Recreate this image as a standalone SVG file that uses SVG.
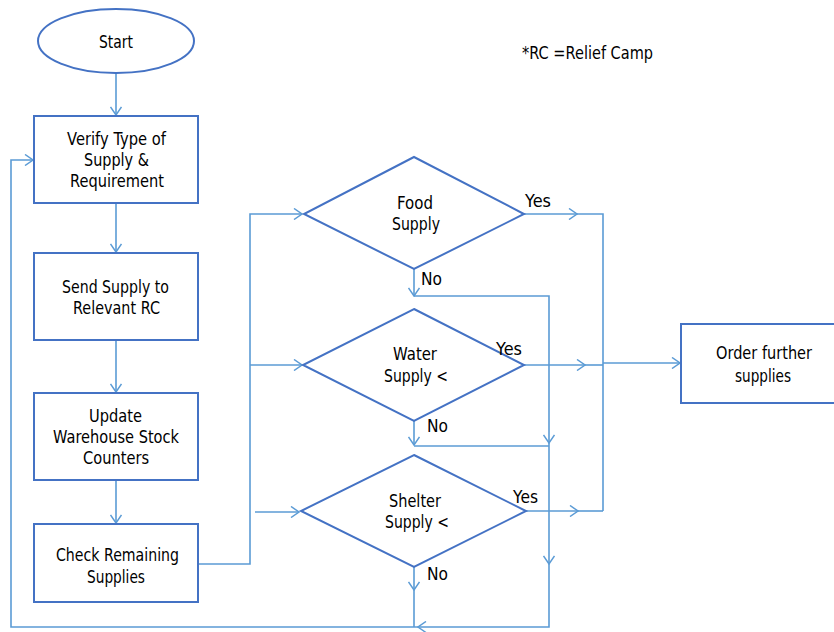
<svg xmlns="http://www.w3.org/2000/svg" width="834" height="632" viewBox="0 0 834 632">
  <defs>
    <marker id="arrow" viewBox="0 0 10 12" refX="9" refY="6" markerWidth="10" markerHeight="12" markerUnits="userSpaceOnUse" orient="auto">
      <path d="M1,0.5 L9,6 L1,11.5" fill="none" stroke="#5B9BD5" stroke-width="1.5"/>
    </marker>
  </defs>
  <style>
    .shape { fill: #ffffff; stroke: #4472C4; stroke-width: 2; }
    .conn { fill: none; stroke: #5B9BD5; stroke-width: 1.6; }
    .lbl { font-family: "DejaVu Sans", "Liberation Sans", sans-serif; font-size: 17px; fill: #000000; }
  </style>

  <rect width="834" height="632" fill="#ffffff"/>

  <!-- connectors -->
  <g id="connectors">
    <path class="conn" d="M116,73 V115" marker-end="url(#arrow)"/>
    <path class="conn" d="M116,203 V252" marker-end="url(#arrow)"/>
    <path class="conn" d="M116,340 V392" marker-end="url(#arrow)"/>
    <path class="conn" d="M116,480 V523" marker-end="url(#arrow)"/>
    <path class="conn" d="M198,564 H250 V214 H302" marker-end="url(#arrow)"/>
    <path class="conn" d="M250,365 H302" marker-end="url(#arrow)"/>
    <path class="conn" d="M255,512 H299" marker-end="url(#arrow)"/>
    <!-- yes branches -->
    <path class="conn" d="M524,214 H577" marker-end="url(#arrow)"/>
    <path class="conn" d="M577,214 H603 V511"/>
    <path class="conn" d="M524,365 H585" marker-end="url(#arrow)"/>
    <path class="conn" d="M585,365 H603"/>
    <path class="conn" d="M603,363 H680" marker-end="url(#arrow)"/>
    <path class="conn" d="M526,511 H578" marker-end="url(#arrow)"/>
    <path class="conn" d="M578,511 H603"/>
    <!-- no branches -->
    <path class="conn" d="M414,269 V296" marker-end="url(#arrow)"/>
    <path class="conn" d="M414,296 H549 V443" marker-end="url(#arrow)"/>
    <path class="conn" d="M414,421 V445" marker-end="url(#arrow)"/>
    <path class="conn" d="M414,446 H549"/>
    <path class="conn" d="M549,443 V564" marker-end="url(#arrow)"/>
    <path class="conn" d="M549,564 V627 H418" marker-end="url(#arrow)"/>
    <path class="conn" d="M418,627 H11 V160 H33" marker-end="url(#arrow)"/>
    <path class="conn" d="M414,567 V590" marker-end="url(#arrow)"/>
    <path class="conn" d="M414,590 V627"/>
  </g>

  <g id="start">
    <ellipse class="shape" cx="116" cy="41" rx="78" ry="32"/>
    <text class="lbl" x="99" y="48" textLength="34" lengthAdjust="spacingAndGlyphs">Start</text>
  </g>

  <g id="verify">
    <rect class="shape" x="34" y="116" width="164" height="87"/>
    <text class="lbl" x="67" y="145" textLength="99" lengthAdjust="spacingAndGlyphs">Verify Type of</text>
    <text class="lbl" x="84" y="166" textLength="65" lengthAdjust="spacingAndGlyphs">Supply &amp;</text>
    <text class="lbl" x="70" y="187" textLength="94" lengthAdjust="spacingAndGlyphs">Requirement</text>
  </g>

  <g id="send">
    <rect class="shape" x="34" y="253" width="164" height="87"/>
    <text class="lbl" x="62" y="293" textLength="107" lengthAdjust="spacingAndGlyphs">Send Supply to</text>
    <text class="lbl" x="73" y="314" textLength="87" lengthAdjust="spacingAndGlyphs">Relevant RC</text>
  </g>

  <g id="update">
    <rect class="shape" x="34" y="393" width="164" height="87"/>
    <text class="lbl" x="89" y="422" textLength="53" lengthAdjust="spacingAndGlyphs">Update</text>
    <text class="lbl" x="53" y="443" textLength="126" lengthAdjust="spacingAndGlyphs">Warehouse Stock</text>
    <text class="lbl" x="83" y="464" textLength="66" lengthAdjust="spacingAndGlyphs">Counters</text>
  </g>

  <g id="check">
    <rect class="shape" x="34" y="524" width="164" height="78"/>
    <text class="lbl" x="56" y="561" textLength="123" lengthAdjust="spacingAndGlyphs">Check Remaining</text>
    <text class="lbl" x="87" y="583" textLength="58" lengthAdjust="spacingAndGlyphs">Supplies</text>
  </g>

  <g id="food">
    <polygon class="shape" points="414,157 524,214 414,269 304,214"/>
    <text class="lbl" x="397" y="209" textLength="36" lengthAdjust="spacingAndGlyphs">Food</text>
    <text class="lbl" x="392" y="230" textLength="48" lengthAdjust="spacingAndGlyphs">Supply</text>
    <text class="lbl" x="525" y="207" textLength="26" lengthAdjust="spacingAndGlyphs">Yes</text>
    <text class="lbl" x="421" y="285" textLength="21" lengthAdjust="spacingAndGlyphs">No</text>
  </g>

  <g id="water">
    <polygon class="shape" points="414,309 524,365 414,421 303,365"/>
    <text class="lbl" x="393" y="360" textLength="44" lengthAdjust="spacingAndGlyphs">Water</text>
    <text class="lbl" x="384" y="382" textLength="64" lengthAdjust="spacingAndGlyphs">Supply &lt;</text>
    <text class="lbl" x="496" y="355" textLength="26" lengthAdjust="spacingAndGlyphs">Yes</text>
    <text class="lbl" x="427" y="432" textLength="21" lengthAdjust="spacingAndGlyphs">No</text>
  </g>

  <g id="shelter">
    <polygon class="shape" points="414,455 526,511 414,567 301,511"/>
    <text class="lbl" x="389" y="507" textLength="52" lengthAdjust="spacingAndGlyphs">Shelter</text>
    <text class="lbl" x="385" y="528" textLength="64" lengthAdjust="spacingAndGlyphs">Supply &lt;</text>
    <text class="lbl" x="513" y="503" textLength="25" lengthAdjust="spacingAndGlyphs">Yes</text>
    <text class="lbl" x="427" y="580" textLength="21" lengthAdjust="spacingAndGlyphs">No</text>
  </g>

  <g id="order">
    <rect class="shape" x="681" y="324" width="160" height="79"/>
    <text class="lbl" x="716" y="359" textLength="96" lengthAdjust="spacingAndGlyphs">Order further</text>
    <text class="lbl" x="735" y="382" textLength="56" lengthAdjust="spacingAndGlyphs">supplies</text>
  </g>

  <g id="note">
    <text class="lbl" x="522" y="59" textLength="131" lengthAdjust="spacingAndGlyphs">*RC =Relief Camp</text>
  </g>
</svg>
